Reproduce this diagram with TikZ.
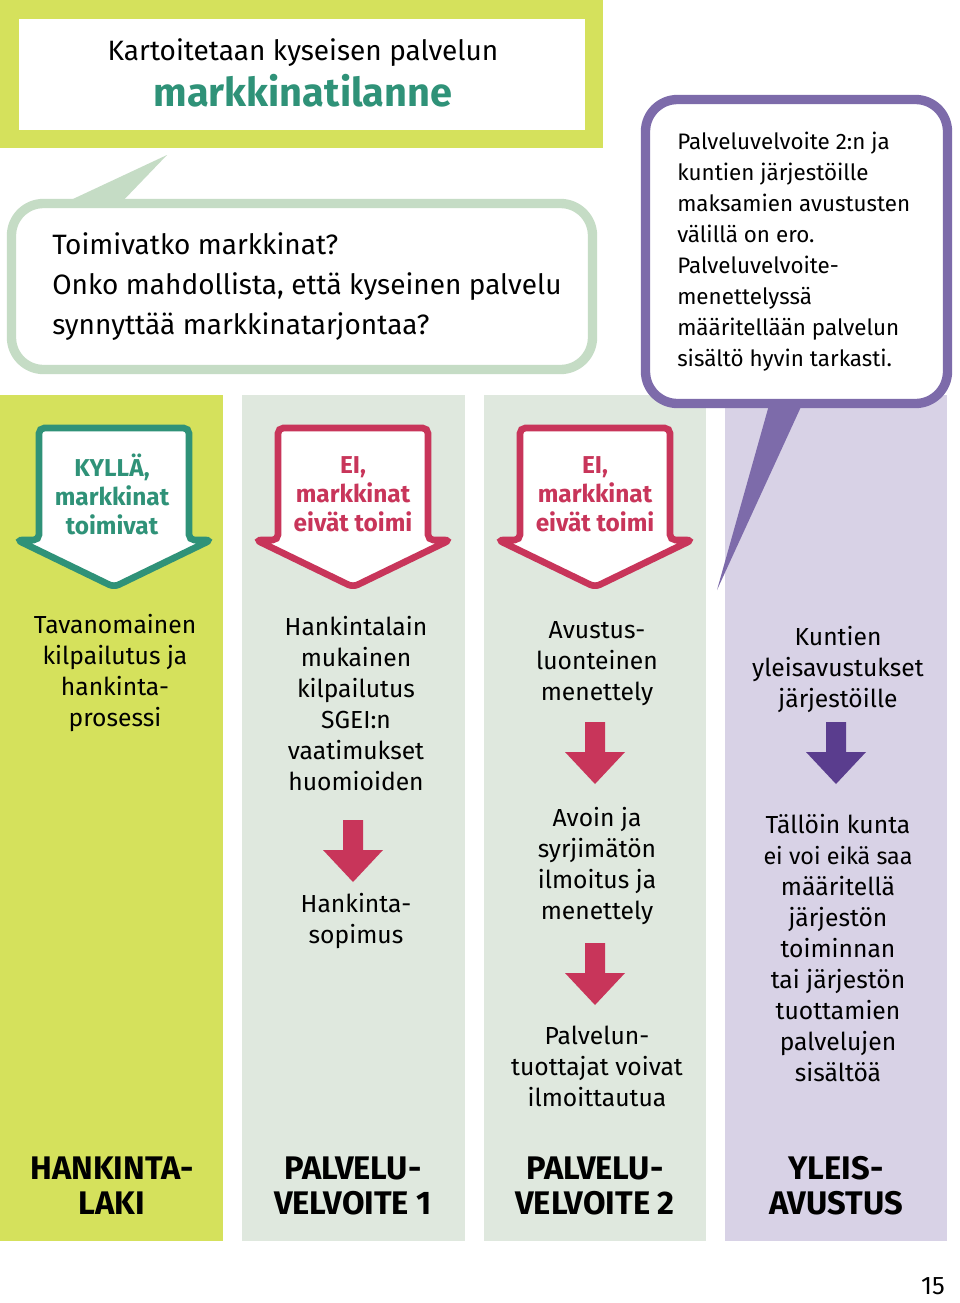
\documentclass[tikz,border=0pt]{standalone}
\usepackage{fontspec}
\setmainfont{Fira Sans}
\newfontfamily\labfont{Fira Sans}
\definecolor{lime}{RGB}{213,225,92}
\definecolor{palegreen}{RGB}{223,232,222}
\definecolor{bubblegreen}{RGB}{197,220,197}
\definecolor{lavender}{RGB}{216,210,230}
\definecolor{calloutpurple}{RGB}{125,107,170}
\definecolor{darkpurple}{RGB}{90,61,142}
\definecolor{crimson}{RGB}{200,53,90}
\definecolor{tealgreen}{RGB}{47,146,120}
\tikzset{
  coltext/.style={align=center, inner sep=0pt, font=\fontsize{18.5}{23.25}\selectfont},
  arrowtext/.style={align=center, inner sep=0pt, font=\fontsize{18.3}{21.75}\selectfont\bfseries},
  labtext/.style={align=center, inner sep=0pt, font=\labfont\fontsize{24.5}{26.25}\selectfont\bfseries},
  bigarrowline/.style={line width=5, rounded corners=4, fill=white}
}
\newcommand\mkbigarrow[2]{%
  \draw[bigarrowline, draw=#2] ({#1-75},428) -- ({#1+75},428) -- ({#1+75},540) -- ({#1+97},540)
    -- (#1,587) -- ({#1-97},540) -- ({#1-75},540) -- cycle;}
\newcommand\mksmallarrow[3]{%
  \fill[#3] ({#1-10},#2) -- ({#1+10},#2) -- ({#1+10},{#2+30}) -- ({#1+30},{#2+30})
    -- (#1,{#2+62}) -- ({#1-30},{#2+30}) -- ({#1-10},{#2+30}) -- cycle;}
\begin{document}
\begin{tikzpicture}[x=0.75pt,y=-0.75pt]
\useasboundingbox (0,0) rectangle (960,1303);
\fill[white] (0,0) rectangle (960,1303);
% columns
\fill[lime] (0,395) rectangle (223,1241);
\fill[palegreen] (242,395) rectangle (465,1241);
\fill[palegreen] (484,395) rectangle (706,1241);
\fill[lavender] (725,395) rectangle (947,1241);
% top frame
\fill[lime] (0,0) rectangle (603,148);
\fill[white] (19,19) rectangle (585,130);
\node[inner sep=0pt, font=\fontsize{21}{24}\selectfont] (t1) at (303,53) {Kartoitetaan kyseisen palvelun};
\node[inner sep=0pt, text=tealgreen, font=\fontsize{29.8}{32}\selectfont\bfseries] (t2) at (303,91) {markkinatilanne};
% speech bubble
\fill[bubblegreen] (58,206) -- (167,155) -- (118,206) -- cycle;
\draw[bubblegreen, line width=7, fill=white, rounded corners=24] (11.5,203.5) rectangle (592.5,369.5);
\node[anchor=west, align=left, inner sep=0pt, font=\fontsize{21}{30}\selectfont] (q) at (52,287)
  {Toimivatko markkinat?\\Onko mahdollista, että kyseinen palvelu\\synnyttää markkinatarjontaa?};
% callout
\fill[calloutpurple] (771,398) -- (717,590) -- (805,398) -- cycle;
\draw[calloutpurple, line width=7, fill=white, rounded corners=24] (645.5,99.5) rectangle (947.5,403.5);
\node[anchor=west, align=left, inner sep=0pt, font=\fontsize{16.8}{23.25}\selectfont] (c) at (677,251.5)
  {Palveluvelvoite 2:n ja\\kuntien järjestöille\\maksamien avustusten\\välillä on ero.\\Palveluvelvoite-\\menettelyssä\\määritellään palvelun\\sisältö hyvin tarkasti.};
% big arrows
\mkbigarrow{114}{tealgreen}
\mkbigarrow{353}{crimson}
\mkbigarrow{595}{crimson}
\node[arrowtext, text=tealgreen] (a1) at (112,494) {KYLLÄ,\\markkinat\\toimivat};
\node[arrowtext, text=crimson] (a2) at (353,494) {EI,\\markkinat\\eivät toimi};
\node[arrowtext, text=crimson] (a3) at (595,494) {EI,\\markkinat\\eivät toimi};
% column texts
\node[coltext] (k1) at (115,672.5) {Tavanomainen\\kilpailutus ja\\hankinta-\\prosessi};
\node[coltext] (k2a) at (356,703.5) {Hankintalain\\mukainen\\kilpailutus\\SGEI:n\\vaatimukset\\huomioiden};
\node[coltext] (k2b) at (356,920.5) {Hankinta-\\sopimus};
\node[coltext] (k3a) at (597,664) {Avustus-\\luonteinen\\menettely};
\node[coltext] (k3b) at (597,865.5) {Avoin ja\\syrjimätön\\ilmoitus ja\\menettely};
\node[coltext] (k3c) at (597,1066) {Palvelun-\\tuottajat voivat\\ilmoittautua};
\node[coltext] (k4a) at (838,669) {Kuntien\\yleisavustukset\\järjestöille};
\node[coltext] (k4b) at (838,948) {Tällöin kunta\\{\fontsize{17.5}{23.25}\selectfont ei voi eikä saa}\\määritellä\\järjestön\\toiminnan\\tai järjestön\\tuottamien\\palvelujen\\sisältöä};
% small arrows
\mksmallarrow{353}{820}{crimson}
\mksmallarrow{595}{722}{crimson}
\mksmallarrow{595}{943}{crimson}
\mksmallarrow{836}{722}{darkpurple}
% bottom labels
\node[labtext] (l1) at (112,1185.5) {HANKINTA-\\LAKI};
\node[labtext] (l2) at (353,1185.5) {PALVELU-\\VELVOITE 1};
\node[labtext] (l3) at (595,1185.5) {PALVELU-\\VELVOITE 2};
\node[labtext] (l4) at (836,1185.5) {YLEIS-\\AVUSTUS};
\node[inner sep=0pt, font=\fontsize{19}{21}\selectfont] (pg) at (933,1286) {15};
\end{tikzpicture}
\end{document}
